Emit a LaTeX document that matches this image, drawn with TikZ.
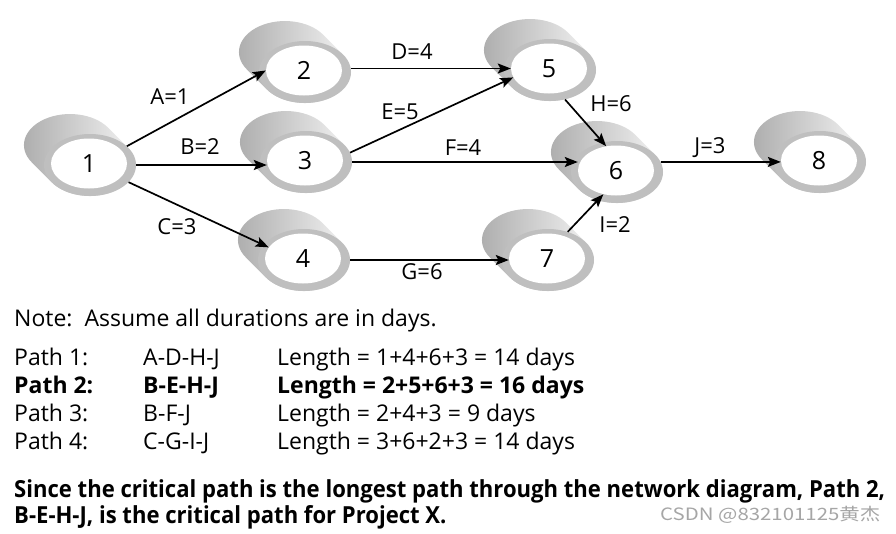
\documentclass[tikz,border=0pt]{standalone}
\usepackage{fontspec}
\usepackage{graphicx}
\setmainfont{Open Sans}
\newfontfamily\cjkfont{Noto Sans CJK SC}
\usetikzlibrary{arrows.meta,calc,shapes.geometric}
\newcommand\cylback[2]{%
  \shade[left color=black!33, right color=black!3]
    (#1+38.1,#2-17.3) -- ++(-20,-20)
    arc[start angle=-34, end angle=-214, x radius=46, y radius=31]
    -- ++(20,20)
    arc[start angle=146, end angle=-34, x radius=46, y radius=31] -- cycle;
}
\newlength\Lone
\begin{document}
\settowidth{\Lone}{\fontsize{23.5}{27}\selectfont\bfseries Since the critical path is the longest path through the network diagram, Path 2,}%
\pgfmathsetmacro\sx{871/\Lone}%
\begin{tikzpicture}[x=1pt,y=-1pt,
  ring/.style={ellipse, minimum width=92pt, minimum height=62pt, inner sep=0pt, fill=black!25},
  hole/.style={ellipse, minimum width=76pt, minimum height=50pt, inner sep=0pt, fill=white, font=\fontsize{25}{28}\selectfont},
  arr/.style={line width=1.7pt, -{Stealth[length=13pt,width=10pt,inset=2.5pt]}},
  lbl/.style={font=\fontsize{22}{26}\selectfont, inner sep=0pt},
  txt/.style={anchor=base west, inner sep=0pt, font=\fontsize{23}{26}\selectfont},
  txtb/.style={txt, font=\fontsize{23}{26}\selectfont\bfseries},
  btxt/.style={anchor=base west, inner sep=0pt, font=\fontsize{23.5}{27}\selectfont\bfseries},
]
\fill[white] (0,0) rectangle (896,533);
\useasboundingbox (0,0) rectangle (896,533);

% cylinder backs
\cylback{90}{165}
\cylback{305}{72}
\cylback{306}{162}
\cylback{304}{260}
\cylback{550}{70}
\cylback{617}{172}
\cylback{548}{260}
\cylback{820}{162}

% front rings and holes
\node[ring] (n1) at (90,165) {};  \node[hole] (n1i) at (89,163.5) {1};
\node[ring] (n2) at (305,72) {};  \node[hole] (n2i) at (304,70.5) {2};
\node[ring] (n3) at (306,162) {}; \node[hole] (n3i) at (305,160.5) {3};
\node[ring] (n4) at (304,260) {}; \node[hole] (n4i) at (303,258.5) {4};
\node[ring] (n5) at (550,70) {};  \node[hole] (n5i) at (549,68.5) {5};
\node[ring] (n6) at (617,172) {}; \node[hole] (n6i) at (616,170.5) {6};
\node[ring] (n7) at (548,260) {}; \node[hole] (n7i) at (547,258.5) {7};
\node[ring] (n8) at (820,162) {}; \node[hole] (n8i) at (819,160.5) {8};

% connectors
\draw[arr] (n1.27) -- (n2i.180);
\draw[arr] (n1.east) -- (n1.east -| n3i.west);
\draw[arr] (n1.-24) -- (n4i.162);
\draw[arr] (n2.east |- n5i.west) -- (n5i.west);
\draw[arr] (n3.12) -- (n5i.194);
\draw[arr] (n3.east) -- (n3.east -| n6i.west);
\draw[arr] (n5.-63) -- (n6i.112);
\draw[arr] (n7.55) -- (n6i.242);
\draw[arr] (n6.13) -- (n6.13 -| n8i.west);
\draw[arr] (n4.east) -- (n4.east -| n7i.west);

% labels
\node[lbl] (la) at (170,97) {A=1};
\node[lbl] (lb) at (200,147) {B=2};
\node[lbl] (lc) at (177,227) {C=3};
\node[lbl] (ld) at (412,52) {D=4};
\node[lbl] (le) at (400,112) {E=5};
\node[lbl] (lf) at (463,148) {F=4};
\node[lbl] (lg) at (422,272) {G=6};
\node[lbl] (lh) at (611,104) {H=6};
\node[lbl] (li) at (615,225) {I=2};
\node[lbl] (lj) at (710,148) {J=3};

% text
\node[txt] (note) at (14,326) {Note:\ \ Assume all durations are in days.};
\node[txt] (p1a) at (14,365) {Path 1:};
\node[txt] (p1b) at (143,365) {A-D-H-J};
\node[txt] (p1c) at (277,365) {Length = 1+4+6+3 = 14 days};
\node[txtb] (p2a) at (14,393) {Path 2:};
\node[txtb] (p2b) at (143,393) {B-E-H-J};
\node[txtb] (p2c) at (277,393) {Length = 2+5+6+3 = 16 days};
\node[txt] (p3a) at (14,421) {Path 3:};
\node[txt] (p3b) at (143,421) {B-F-J};
\node[txt] (p3c) at (277,421) {Length = 2+4+3 = 9 days};
\node[txt] (p4a) at (14,449) {Path 4:};
\node[txt] (p4b) at (143,449) {C-G-I-J};
\node[txt] (p4c) at (277,449) {Length = 3+6+2+3 = 14 days};

\node[btxt] (s1) at (14,497) {\scalebox{\sx}[1]{Since the critical path is the longest path through the network diagram, Path 2,}};
\node[btxt] (s2) at (14,523) {\scalebox{\sx}[1]{B-E-H-J, is the critical path for Project X.}};

\node[anchor=base west, inner sep=0pt, text=black!35, font=\cjkfont\fontsize{17}{20}\selectfont] (wm) at (660,520) {\resizebox{220pt}{\height}{CSDN @832101125黄杰}};
\end{tikzpicture}
\end{document}
